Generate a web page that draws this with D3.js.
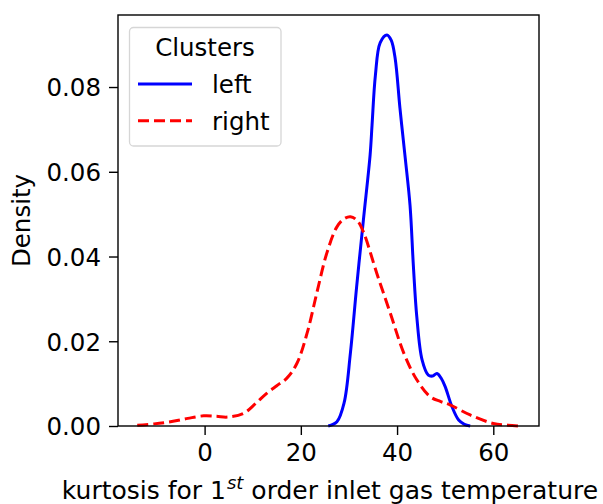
<!DOCTYPE html>
<html>
<head>
<meta charset="utf-8">
<script src="https://cdn.jsdelivr.net/npm/d3@7"></script>
<style>
  html, body { margin: 0; padding: 0; background: #fff; }
  svg text { font-family: "DejaVu Sans", sans-serif; fill: #000; }
</style>
</head>
<body>
<svg id="chart" width="603" height="504"></svg>
<script>
// Kernel density estimates of kurtosis for the two clusters
const leftX = [25.7, 27.5, 29.0, 30.3, 31.6, 33.0, 34.4, 34.8, 35.5, 36.5, 37.9, 38.8, 39.6, 40.6, 41.7, 42.7, 43.4, 44.1, 45.2, 46.5, 47.4, 48.3, 49.2, 50.0, 51.4, 52.8, 54.0, 55.2];
const leftDensity = [0.0, 0.001, 0.0055, 0.0172, 0.0329, 0.0486, 0.064, 0.071, 0.0828, 0.0905, 0.0923, 0.0910, 0.0868, 0.075, 0.0632, 0.0520, 0.0376, 0.0258, 0.0156, 0.0120, 0.0118, 0.0124, 0.0112, 0.0093, 0.0046, 0.0014, 0.0004, 0.0];

const rightX = [-14.0, -10.5, -7.1, -3.5, -0.2, 2.5, 4.7, 8.1, 10.5, 12.9, 15.0, 17.1, 19.2, 21.3, 23.3, 25.4, 27.5, 29.0, 30.3, 31.7, 33.0, 35.8, 38.6, 41.4, 44.1, 46.9, 49.0, 51.0, 55.2, 60.0, 63.0, 65.4];
const rightDensity = [0.0002, 0.0005, 0.001, 0.0018, 0.0024, 0.0023, 0.0021, 0.003, 0.0052, 0.0077, 0.0095, 0.0113, 0.0148, 0.0219, 0.0313, 0.0408, 0.047, 0.0489, 0.0494, 0.0485, 0.0458, 0.036, 0.0266, 0.0172, 0.0109, 0.0069, 0.0058, 0.005, 0.0026, 0.0006, 0.0002, 0.0];

const xTicks = [0, 20, 40, 60];
const yTicks = [0.00, 0.02, 0.04, 0.06, 0.08];
const seriesNames = ["left", "right"];

const svg = d3.select("#chart");
const plot = { left: 118, right: 539, top: 15, bottom: 426 };

const x = d3.scaleLinear().domain([-18.0, 69.5]).range([plot.left, plot.right]);
const y = d3.scaleLinear().domain([0, 0.0970]).range([plot.bottom, plot.top]);

const fontSize = 24.5;
const lineW = 3;
const dash = "11,5";

// axes
const xAxis = svg.append("g")
  .attr("transform", `translate(0,${plot.bottom})`)
  .call(d3.axisBottom(x).tickValues(xTicks).tickFormat(d3.format("d")).tickSizeOuter(0).tickSize(9).tickPadding(9));
const yAxis = svg.append("g")
  .attr("transform", `translate(${plot.left},0)`)
  .call(d3.axisLeft(y).tickValues(yTicks).tickFormat(d3.format(".2f")).tickSizeOuter(0).tickSize(9).tickPadding(8));
[xAxis, yAxis].forEach(g => {
  g.select(".domain").remove();
  g.selectAll("line").attr("stroke", "#000").attr("stroke-width", 1.4);
  g.selectAll("text").style("font-size", fontSize + "px").style("font-family", "DejaVu Sans");
});
yAxis.selectAll("text").attr("dy", "0.36em");

// curves
const line = d3.line().x(d => x(d[0])).y(d => y(d[1])).curve(d3.curveCatmullRom.alpha(0.5));
const leftData = d3.zip(leftX, leftDensity);
const rightData = d3.zip(rightX, rightDensity);

svg.append("path").datum(leftData)
  .attr("d", line).attr("fill", "none").attr("stroke", "#0000ff").attr("stroke-width", lineW);
svg.append("path").datum(rightData)
  .attr("d", line).attr("fill", "none").attr("stroke", "#ff0000").attr("stroke-width", lineW)
  .attr("stroke-dasharray", dash);

// frame
svg.append("rect")
  .attr("x", plot.left).attr("y", plot.top)
  .attr("width", plot.right - plot.left).attr("height", plot.bottom - plot.top)
  .attr("fill", "none").attr("stroke", "#000").attr("stroke-width", 1.4);

// legend
const lg = svg.append("g");
lg.append("rect").attr("x", 129.5).attr("y", 27.5).attr("width", 151.5).attr("height", 118.5)
  .attr("rx", 4).attr("fill", "#fff").attr("fill-opacity", 0.8)
  .attr("stroke", "#d6d6d6").attr("stroke-width", 1.3);
lg.append("text").attr("x", 205).attr("y", 56).attr("text-anchor", "middle")
  .style("font-size", fontSize + "px").text("Clusters");
const legendStyles = [
  { color: "#0000ff", dash: null },
  { color: "#ff0000", dash: dash }
];
seriesNames.forEach((name, i) => {
  const yy = 84 + i * 36.7;
  lg.append("line").attr("x1", 138).attr("x2", 192).attr("y1", yy).attr("y2", yy)
    .attr("stroke", legendStyles[i].color).attr("stroke-width", lineW)
    .attr("stroke-dasharray", legendStyles[i].dash);
  lg.append("text").attr("x", 212).attr("y", yy + 9)
    .style("font-size", fontSize + "px").text(name);
});

// axis titles
svg.append("text")
  .attr("transform", `translate(30,${(plot.top + plot.bottom) / 2}) rotate(-90)`)
  .attr("text-anchor", "middle").style("font-size", fontSize + "px").text("Density");

const xt = svg.append("text")
  .attr("x", 330).attr("y", 499)
  .attr("text-anchor", "middle").style("font-size", "25px");
xt.append("tspan").text("kurtosis for 1");
xt.append("tspan").attr("dx", 1).attr("dy", -10).style("font-size", "18px").style("font-style", "italic").text("st");
xt.append("tspan").attr("dy", 10).text(" order inlet gas temperature");
</script>
</body>
</html>
